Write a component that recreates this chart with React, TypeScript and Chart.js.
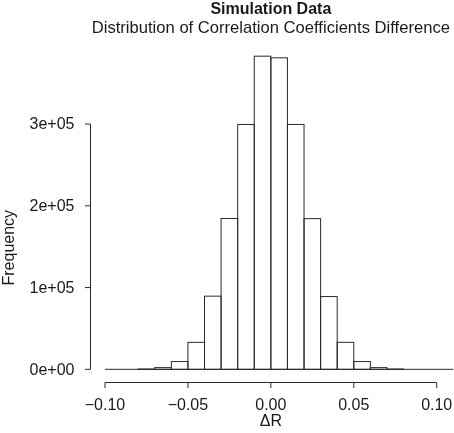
import React, { useEffect, useRef } from "react";
import { Chart, registerables } from "chart.js";

Chart.register(...registerables);

// ---- data ----
const binCenters = [
  -0.095, -0.085, -0.075, -0.065, -0.055, -0.045, -0.035, -0.025, -0.015, -0.005,
  0.005, 0.015, 0.025, 0.035, 0.045, 0.055, 0.065, 0.075, 0.085, 0.095, 0.105,
];
const frequencies = [
  0, 0, 400, 2100, 9500, 33000, 89500, 184500, 299500, 383000,
  381000, 299500, 184300, 89000, 33000, 9500, 2100, 400, 0, 0, 0,
];
const binWidth = 0.01;
const xTickValues = [-0.1, -0.05, 0, 0.05, 0.1];
const xTickLabels = ["\u22120.10", "\u22120.05", "0.00", "0.05", "0.10"];
const yTickValues = [0, 100000, 200000, 300000];
const yTickLabels = ["0e+00", "1e+05", "2e+05", "3e+05"];
const titleText = "Simulation Data";
const subtitleText = "Distribution of Correlation Coefficients Difference";
const xLabel = "\u0394R";
const yLabel = "Frequency";

const FONT = '"Liberation Sans", Arial, Helvetica, sans-serif';
const INK = "#1a1a1a";
const LINE = "#2a2a2a";

const rStylePlugin = {
  id: "rStyle",
  afterDatasetsDraw(chart: any) {
    const ctx = chart.ctx;
    const xs = chart.scales.x;
    const ys = chart.scales.y;
    const meta = chart.getDatasetMeta(0);
    ctx.save();
    ctx.strokeStyle = LINE;
    ctx.lineWidth = 1;
    meta.data.forEach((bar: any, i: number) => {
      if (frequencies[i] <= 0) return;
      const p = bar.getProps(["x", "y", "base", "width"], true);
      ctx.strokeRect(p.x - p.width / 2, p.y, p.width, p.base - p.y);
    });
    // baseline across all breaks (zero-count bins drawn flat)
    const y0 = ys.getPixelForValue(0);
    const xa = xs.getPixelForValue(binCenters[0] - binWidth / 2);
    const xb = xs.getPixelForValue(binCenters[binCenters.length - 1] + binWidth / 2);
    ctx.beginPath();
    ctx.moveTo(xa, y0);
    ctx.lineTo(xb, y0);
    ctx.stroke();
    ctx.restore();
  },
  afterDraw(chart: any) {
    const ctx = chart.ctx;
    const xs = chart.scales.x;
    const ys = chart.scales.y;
    const area = chart.chartArea;
    ctx.save();
    ctx.strokeStyle = LINE;
    ctx.fillStyle = INK;
    ctx.lineWidth = 1;

    // x axis
    const axY = area.bottom + 0.5;
    const xFirst = xs.getPixelForValue(xTickValues[0]);
    const xLast = xs.getPixelForValue(xTickValues[xTickValues.length - 1]);
    ctx.beginPath();
    ctx.moveTo(xFirst, axY);
    ctx.lineTo(xLast, axY);
    xTickValues.forEach((v) => {
      const px = xs.getPixelForValue(v);
      ctx.moveTo(px, axY);
      ctx.lineTo(px, axY + 5.5);
    });
    ctx.stroke();
    ctx.font = "16px " + FONT;
    ctx.textAlign = "center";
    ctx.textBaseline = "alphabetic";
    xTickValues.forEach((v, i) => {
      ctx.fillText(xTickLabels[i], xs.getPixelForValue(v), axY + 27);
    });
    ctx.fillText(xLabel, xs.getPixelForValue(0), axY + 43);

    // y axis
    const axX = area.left + 0.5;
    const yFirst = ys.getPixelForValue(yTickValues[0]);
    const yLast = ys.getPixelForValue(yTickValues[yTickValues.length - 1]);
    ctx.beginPath();
    ctx.moveTo(axX, yFirst);
    ctx.lineTo(axX, yLast);
    yTickValues.forEach((v) => {
      const py = ys.getPixelForValue(v);
      ctx.moveTo(axX, py);
      ctx.lineTo(axX - 5.5, py);
    });
    ctx.stroke();
    ctx.textAlign = "right";
    ctx.textBaseline = "middle";
    yTickValues.forEach((v, i) => {
      ctx.fillText(yTickLabels[i], axX - 16, ys.getPixelForValue(v) + 1);
    });

    // y label
    ctx.save();
    ctx.translate(13.5, (yFirst + yLast) / 2 + 1);
    ctx.rotate(-Math.PI / 2);
    ctx.textAlign = "center";
    ctx.textBaseline = "alphabetic";
    ctx.fillText(yLabel, 0, 0);
    ctx.restore();

    // titles
    const cx = xs.getPixelForValue(0);
    ctx.textAlign = "center";
    ctx.textBaseline = "alphabetic";
    ctx.font = "bold 16px " + FONT;
    ctx.fillText(titleText, cx, 14);
    ctx.font = "16.6px " + FONT;
    ctx.fillText(subtitleText, cx, 33);
    ctx.restore();
  },
};

export default function App() {
  const canvasRef = useRef<HTMLCanvasElement | null>(null);

  useEffect(() => {
    document.body.style.margin = "0";
    const canvas = canvasRef.current;
    if (!canvas) return;
    const chart = new Chart(canvas, {
      type: "bar",
      data: {
        datasets: [
          {
            data: binCenters.map((c, i) => ({ x: c, y: frequencies[i] })),
            backgroundColor: "#ffffff",
            borderWidth: 0,
            barPercentage: 1,
            categoryPercentage: 1,
            grouped: false,
          } as any,
        ],
      },
      options: {
        responsive: false,
        animation: false,
        devicePixelRatio: 1,
        layout: { padding: { left: 90, top: 44, right: 0, bottom: 51 } },
        plugins: {
          legend: { display: false },
          title: { display: false },
          tooltip: { enabled: false },
        },
        scales: {
          x: {
            type: "linear",
            display: false,
            offset: false,
            min: -0.109044,
            max: 0.110431,
            grid: { display: false },
          },
          y: {
            type: "linear",
            display: false,
            min: -15500,
            max: 397900,
            grid: { display: false },
          },
        },
      } as any,
      plugins: [rStylePlugin],
    });
    return () => chart.destroy();
  }, []);

  return (
    <div style={{ position: "absolute", left: 0, top: 0, width: 454, height: 433, background: "#fff" }}>
      <canvas ref={canvasRef} width={454} height={433} style={{ display: "block" }} />
    </div>
  );
}
